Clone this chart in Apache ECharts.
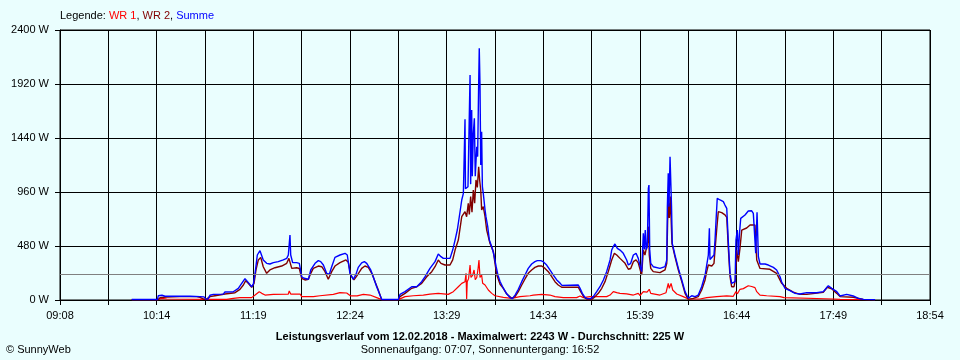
<!DOCTYPE html>
<html>
<head>
<meta charset="utf-8">
<script src="https://cdn.jsdelivr.net/npm/echarts@6/dist/echarts.min.js"></script>
<style>
html,body{margin:0;padding:0;background:#EAFEFE;}
#chart{width:960px;height:360px;}
</style>
</head>
<body>
<div id="chart"></div>
<script>
// time values are minutes since midnight, power in W
const axisStartMin = 548;   // 09:08
const axisEndMin = 1134;    // 18:54
const xTickLabels = ['09:08','10:14','11:19','12:24','13:29','14:34','15:39','16:44','17:49','18:54'];
const yMax = 2400;
const yStep = 480;
const averageW = 225;

const summe = [
[596.3,5],[613.7,5],[614.2,38],[616.7,42],[618.7,33],[628.8,33],[635.6,33],[642.3,30],[645.0,28],[646.3,8],[647.7,8],[649.0,42],[651.3,50],[658.0,52],[659.1,71],[664.7,73],[665.9,77],[668.1,104],[670.4,148],[672.6,190],[673.8,178],[675.3,148],[677.1,118],[678.2,140],[679.4,237],[680.9,400],[682.7,438],[683.9,430],[684.9,356],[687.2,326],[689.4,320],[691.7,332],[695.0,341],[698.4,356],[700.7,370],[701.8,400],[702.7,400],[702.9,578],[703.4,400],[704.7,332],[707.4,332],[709.2,326],[710.8,207],[712.4,193],[715.3,184],[716.9,267],[719.8,326],[722.0,350],[723.6,341],[725.4,311],[727.6,237],[729.4,230],[731.0,296],[733.2,379],[736.6,400],[740.0,415],[741.5,400],[743.3,237],[745.6,184],[747.4,230],[748.9,290],[751.2,330],[753.0,341],[754.6,326],[757.3,267],[759.0,207],[761.3,118],[764.7,5],[775.9,5],[777.0,50],[780.4,74],[784.9,118],[788.3,118],[791.6,163],[793.9,207],[797.2,281],[800.6,341],[802.8,409],[804.6,385],[806.2,370],[810.7,370],[812.5,444],[814.1,533],[815.6,622],[817.4,780],[818.6,889],[819.7,948],[820.6,948],[820.8,1606],[821.1,990],[822.8,1007],[824.2,2000],[824.6,1030],[825.3,1689],[825.7,1100],[826.4,1481],[827.1,1615],[827.7,1100],[828.7,1363],[829.3,1274],[830.0,1926],[830.4,2237],[830.9,1911],[831.4,1200],[832.0,1496],[832.5,1007],[833.1,948],[834.3,800],[834.9,741],[836.1,652],[837.2,533],[838.8,474],[840.3,400],[841.7,300],[843.0,220],[844.4,165],[846.6,105],[848.9,55],[851.1,22],[852.7,12],[854.5,44],[856.7,95],[859.0,163],[861.2,222],[863.4,281],[865.7,320],[867.9,341],[869.5,350],[871.8,350],[873.5,341],[875.8,311],[878.0,267],[880.3,222],[882.6,178],[884.8,150],[886.1,130],[897.1,133],[898.3,104],[899.8,59],[901.6,24],[903.2,12],[905.5,12],[907.2,30],[909.5,74],[911.7,118],[914.0,178],[916.2,252],[918.5,356],[919.6,444],[920.7,474],[921.8,498],[923.4,459],[925.2,444],[927.4,415],[929.7,356],[930.8,311],[932.4,326],[934.2,400],[936.0,415],[937.5,370],[939.1,281],[939.8,252],[940.9,593],[941.6,450],[942.2,622],[942.9,450],[943.6,474],[944.3,993],[944.7,1022],[945.2,450],[945.9,326],[947.6,296],[952.1,281],[955.5,296],[956.7,356],[957.1,830],[957.7,1126],[958.2,830],[958.9,1274],[959.6,1274],[959.9,830],[960.4,504],[962.2,400],[964.5,281],[966.8,178],[969.0,74],[971.2,15],[973.5,38],[975.7,30],[977.9,44],[980.2,118],[982.5,222],[983.6,311],[984.7,400],[985.4,637],[985.8,360],[987.0,370],[988.5,400],[989.2,533],[989.9,711],[990.7,904],[992.6,889],[994.8,874],[995.9,844],[997.1,815],[998.1,533],[999.3,237],[1000.4,148],[1001.5,148],[1002.7,163],[1003.3,533],[1004.2,622],[1004.9,400],[1005.6,578],[1006.5,726],[1007.8,740],[1009.4,756],[1011.6,791],[1013.9,793],[1015.0,770],[1015.7,785],[1016.6,415],[1017.5,780],[1018.4,385],[1019.5,320],[1022.9,320],[1025.1,311],[1028.5,290],[1030.7,267],[1033.0,207],[1034.1,160],[1036.3,104],[1039.7,83],[1043.1,59],[1046.4,53],[1051.0,65],[1057.7,65],[1062.1,74],[1065.5,127],[1067.8,104],[1071.2,74],[1073.4,36],[1077.9,50],[1082.3,36],[1085.7,15],[1089.1,6],[1097.0,3]
];

const wr2 = [
[596.3,3],[614.0,3],[615.4,21],[619.9,27],[628.8,30],[640.1,30],[642.3,24],[644.5,9],[646.3,3],[649.0,30],[652.4,38],[659.1,53],[665.9,65],[669.2,95],[671.5,133],[673.1,172],[674.8,148],[677.1,113],[678.7,148],[680.0,267],[681.6,356],[683.2,379],[684.9,296],[687.2,237],[689.4,267],[692.8,287],[697.3,302],[700.7,326],[702.2,370],[702.9,380],[704.1,281],[707.4,287],[709.2,280],[710.8,193],[713.0,178],[715.3,184],[716.9,237],[718.6,281],[722.0,302],[724.3,296],[726.5,252],[728.7,184],[731.0,252],[733.2,302],[736.6,332],[740.6,356],[742.2,335],[743.8,222],[746.0,178],[748.3,222],[751.2,281],[753.4,302],[755.7,290],[758.0,237],[760.2,163],[762.4,89],[764.7,3],[775.9,3],[777.0,30],[780.4,59],[784.9,104],[788.3,118],[791.6,148],[795.0,207],[798.4,252],[800.6,296],[802.8,356],[804.6,326],[807.3,311],[810.7,311],[812.5,356],[814.1,444],[816.3,533],[818.6,741],[820.8,785],[821.9,740],[823.0,859],[823.7,760],[824.6,919],[825.5,780],[826.4,978],[827.3,860],[828.2,1067],[829.1,1000],[830.0,1185],[830.7,1060],[831.4,978],[832.0,800],[833.1,830],[834.3,741],[835.4,622],[836.5,563],[837.6,504],[839.9,430],[841.0,326],[842.2,222],[844.4,140],[846.6,104],[848.9,53],[852.3,15],[854.5,30],[856.7,74],[859.0,133],[861.2,187],[863.4,237],[865.7,267],[867.9,290],[870.2,302],[872.5,302],[874.7,281],[876.9,252],[879.2,207],[881.4,163],[883.6,133],[885.9,113],[897.1,113],[898.7,74],[901.0,24],[903.2,5],[906.1,5],[908.4,30],[910.6,59],[912.9,104],[915.1,163],[917.3,252],[919.6,356],[921.4,415],[923.0,400],[925.2,370],[928.6,326],[930.8,273],[932.4,280],[934.2,341],[936.0,356],[937.5,330],[939.1,252],[939.8,222],[940.9,444],[942.0,400],[943.2,410],[944.1,533],[944.5,652],[944.9,400],[945.9,281],[947.6,252],[952.1,243],[955.5,267],[956.7,326],[957.3,711],[958.0,859],[958.4,730],[959.1,919],[959.6,730],[960.2,504],[962.2,385],[964.5,267],[966.8,163],[969.0,59],[971.2,5],[974.6,15],[977.9,30],[980.2,89],[982.5,178],[983.6,252],[984.7,311],[985.8,320],[987.0,302],[988.5,326],[989.2,444],[990.3,622],[991.4,785],[993.7,776],[995.9,756],[997.1,735],[998.1,474],[999.3,207],[1000.4,118],[1002.0,118],[1002.9,178],[1003.8,444],[1004.9,340],[1006.0,459],[1007.2,622],[1008.3,637],[1010.5,640],[1012.8,667],[1016.1,667],[1017.3,356],[1019.5,281],[1026.2,273],[1030.7,237],[1034.1,148],[1037.5,104],[1041.9,70],[1046.4,50],[1051.0,50],[1062.1,68],[1064.8,113],[1067.8,100],[1071.2,59],[1073.4,30],[1082.3,24],[1089.1,6],[1097.0,2]
];

const wr1 = [
[596.3,3],[614.0,3],[616.5,15],[619.9,9],[646.3,5],[660.3,5],[664.7,15],[669.2,21],[677.1,21],[679.4,44],[682.2,74],[683.9,59],[686.1,44],[691.7,50],[701.8,53],[702.4,80],[703.4,53],[709.7,53],[710.8,30],[718.6,30],[723.1,38],[732.1,50],[736.6,65],[741.1,62],[743.8,36],[748.1,36],[752.3,50],[756.8,44],[761.3,21],[764.7,3],[775.9,3],[777.0,15],[780.4,30],[786.0,38],[792.7,44],[797.2,53],[802.8,59],[809.5,50],[812.9,74],[816.3,118],[818.6,148],[820.8,163],[821.5,237],[821.9,10],[822.3,163],[823.2,190],[824.2,311],[824.8,200],[826.0,222],[826.9,267],[827.7,180],[828.7,200],[829.5,267],[830.2,356],[830.9,200],[832.0,222],[832.7,148],[834.3,133],[836.5,89],[838.8,59],[841.0,38],[846.6,24],[852.3,15],[857.8,30],[864.6,38],[866.8,44],[872.5,50],[878.0,44],[881.4,30],[887.0,21],[896.0,21],[898.3,36],[900.5,21],[905.0,30],[916.2,30],[918.5,44],[920.7,74],[923.0,65],[925.2,59],[929.7,55],[934.2,44],[937.5,59],[938.7,40],[940.9,74],[942.2,89],[943.4,70],[944.9,95],[945.9,59],[952.1,44],[956.2,65],[957.7,148],[958.4,104],[959.6,148],[960.7,89],[963.4,53],[967.8,30],[971.2,9],[979.1,9],[983.6,21],[990.3,30],[997.1,36],[1001.5,33],[1003.3,74],[1004.3,55],[1006.0,95],[1008.3,101],[1011.6,127],[1013.9,120],[1015.0,127],[1016.1,110],[1017.3,74],[1019.5,44],[1024.0,38],[1033.0,30],[1035.7,21],[1036.3,9],[1068.9,9],[1073.4,5],[1093.6,3]
];

const FONT = '"Liberation Sans", Arial, sans-serif';
const span = axisEndMin - axisStartMin;
const xStep = span / 18;
const toAxis = arr => arr.map(p => [p[0] - axisStartMin, p[1]]);

const chart = echarts.init(document.getElementById('chart'), null, {renderer: 'canvas'});
chart.setOption({
  animation: false,
  backgroundColor: '#EAFEFE',
  textStyle: {fontFamily: FONT},
  title: [
    {
      text: '{k|Legende: }{a|WR 1}{k|, }{b|WR 2}{k|, }{c|Summe}',
      left: 60, top: 10, padding: 0,
      textStyle: {
        fontSize: 11, fontWeight: 'normal', fontFamily: FONT,
        rich: {
          k: {color: '#000000', fontSize: 11, fontFamily: FONT},
          a: {color: '#FF0000', fontSize: 11, fontFamily: FONT},
          b: {color: '#800000', fontSize: 11, fontFamily: FONT},
          c: {color: '#0000FF', fontSize: 11, fontFamily: FONT}
        }
      }
    },
    {
      text: 'Leistungsverlauf vom 12.02.2018 - Maximalwert: 2243 W - Durchschnitt: 225 W',
      left: 'center', top: 330, padding: 0,
      textStyle: {fontSize: 11, fontWeight: 'bold', color: '#000', fontFamily: FONT, lineHeight: 13}
    },
    {
      text: 'Sonnenaufgang: 07:07, Sonnenuntergang: 16:52',
      left: 'center', top: 343, padding: 0,
      textStyle: {fontSize: 11, fontWeight: 'normal', color: '#000', fontFamily: FONT, lineHeight: 13}
    },
    {
      text: '\u00A9 SunnyWeb',
      left: 6, top: 343, padding: 0,
      textStyle: {fontSize: 11, fontWeight: 'normal', color: '#000', fontFamily: FONT, lineHeight: 13}
    }
  ],
  grid: {left: 60, right: 30, top: 30, bottom: 60, show: true, borderColor: '#000', borderWidth: 1, backgroundColor: 'transparent'},
  xAxis: {
    type: 'value', min: 0, max: span, interval: xStep,
    axisLine: {show: true, lineStyle: {color: '#000', width: 1}},
    axisTick: {show: true, length: 5, lineStyle: {color: '#000'}},
    splitLine: {show: true, lineStyle: {color: '#000', width: 1}},
    axisLabel: {
      color: '#000', fontSize: 11, fontFamily: FONT, margin: 10,
      showMinLabel: true, showMaxLabel: true,
      formatter: v => {
        const i = Math.round(v / xStep);
        return i % 2 === 0 ? (xTickLabels[i / 2] || '') : '';
      }
    }
  },
  yAxis: {
    type: 'value', min: 0, max: yMax, interval: yStep,
    axisLine: {show: true, lineStyle: {color: '#000', width: 1}},
    axisTick: {show: true, length: 5, lineStyle: {color: '#000'}},
    splitLine: {show: true, lineStyle: {color: '#000', width: 1}},
    axisLabel: {color: '#000', fontSize: 11, fontFamily: FONT, margin: 11, formatter: v => v + ' W'}
  },
  series: [
    {
      name: 'WR 1', type: 'line', data: toAxis(wr1), showSymbol: false, symbol: 'none',
      lineStyle: {color: '#FF0000', width: 1.2}, z: 2
    },
    {
      name: 'WR 2', type: 'line', data: toAxis(wr2), showSymbol: false, symbol: 'none',
      lineStyle: {color: '#800000', width: 1.4}, z: 3
    },
    {
      name: 'Summe', type: 'line', data: toAxis(summe), showSymbol: false, symbol: 'none',
      lineStyle: {color: '#0000FF', width: 1.4}, z: 4,
      markLine: {
        silent: true, symbol: 'none', label: {show: false},
        lineStyle: {color: '#808080', type: 'solid', width: 1},
        data: [{yAxis: averageW}]
      }
    }
  ]
});
</script>
</body>
</html>
